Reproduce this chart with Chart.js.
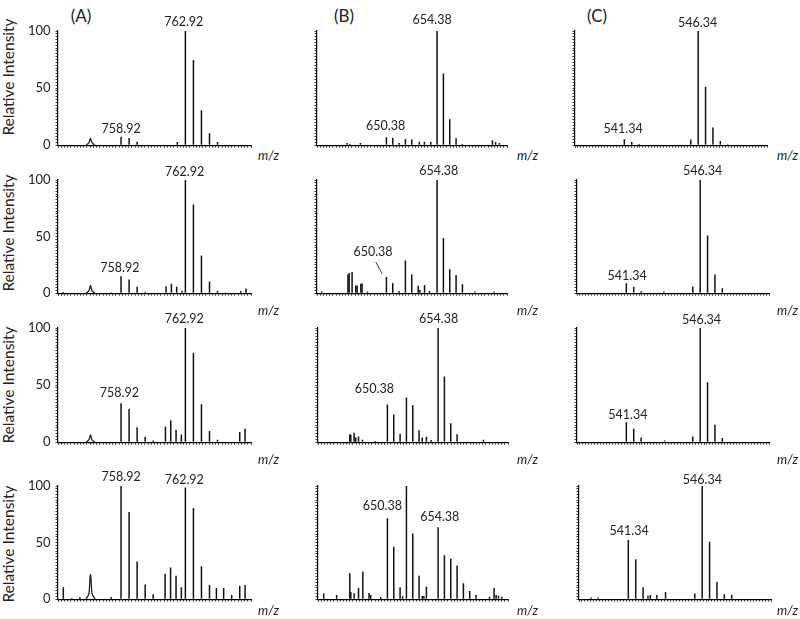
<!DOCTYPE html>
<html>
<head>
<meta charset="utf-8">
<script src="https://cdn.jsdelivr.net/npm/chart.js@4/dist/chart.umd.min.js"></script>
<style>
  html, body { margin: 0; padding: 0; background: #fff; }
  #wrap { position: relative; width: 800px; height: 619px; overflow: hidden; background: #fff; font-family: Lato, "Open Sans", sans-serif; color: #222; }
  canvas { position: absolute; }
  .txt { position: absolute; white-space: nowrap; line-height: 1; }
  .ylab { font-size: 15.5px; transform: translate(-50%, -50%) rotate(-90deg); }
  .panel { font-size: 17px; transform: translate(-50%, -50%); }
  .mz { font-size: 13px; font-style: italic; transform: translateY(-50%); }
</style>
</head>
<body>
<div id="wrap"></div>
<script>
// ---------------- DATA ----------------
const panelNames = ['(A)', '(B)', '(C)'];
const yAxisTitle = 'Relative Intensity';
const xAxisTitle = 'm/z';
const yTickLabels = [0, 50, 100];

// Column A (m/z 755–767)
const mzA1 = [758.92, 759.42, 759.92, 762.42, 762.92, 763.42, 763.92, 764.42, 764.92];
const intA1 = [7.5, 6.3, 3, 2.8, 100, 74.5, 30.5, 10.5, 2.8];
const mzA2 = [755.33, 758.3, 758.92, 759.42, 759.92, 760.42, 761.72, 762.05, 762.38, 762.71, 762.92, 763.42, 763.92, 764.42, 764.92, 765.42, 766.36, 766.69];
const intA2 = [1, 0.8, 15, 12.2, 5.6, 1.2, 6.1, 8.3, 5.6, 2.2, 100, 78.3, 33.3, 10.3, 2.2, 0.8, 1.9, 4.2];
const mzA3 = [758.92, 759.42, 759.92, 760.42, 760.92, 761.68, 762.01, 762.34, 762.67, 762.92, 763.42, 763.92, 764.42, 764.92, 766.3, 766.63];
const intA3 = [34.2, 29.3, 13.2, 4.7, 1.4, 13.7, 19.2, 11, 6.8, 100, 78.4, 33.2, 9.9, 2.2, 9, 11.8];
const mzA4 = [755.33, 755.85, 756.36, 758.31, 758.92, 759.42, 759.92, 760.42, 760.92, 761.66, 762.0, 762.34, 762.67, 762.92, 763.42, 763.92, 764.42, 764.85, 765.3, 765.8, 766.3, 766.63];
const intA4 = [10.5, 1, 2, 2, 100, 77, 33.2, 13, 4.4, 22.4, 28, 20.8, 10.5, 98.6, 80.6, 29, 12.5, 10, 10, 3.6, 11.9, 12.5];
// broad feature near m/z 757 (profile points)
const broadMzA = [756.75, 756.92, 756.99, 757.02, 757.05, 757.12, 757.3];
const broadA1 = [0, 2, 5, 6, 5, 2, 0];
const broadA2 = [0, 2, 5.5, 6.9, 5.5, 2, 0];
const broadA3 = [0, 2, 5, 6.3, 5, 2, 0];
const broadA4 = [0, 5, 19, 22, 19, 5, 0];

// Column B (m/z 644.9–659.9)
const mzB1 = [647.28, 647.5, 648.33, 650.38, 650.88, 651.38, 651.88, 652.38, 652.98, 653.38, 653.88, 654.38, 654.88, 655.38, 655.88, 656.38, 658.75, 659.0, 659.3];
const intB1 = [2, 1, 2, 6.9, 6.6, 2, 5.5, 5, 3, 3, 3, 100, 62.7, 22.7, 6.1, 1, 4.4, 2.8, 2];
const mzB2 = [645.27, 647.34, 647.44, 647.67, 647.96, 648.07, 648.36, 648.46, 648.88, 650.38, 650.88, 651.38, 651.88, 652.38, 652.89, 653.02, 653.39, 653.78, 654.38, 654.88, 655.38, 655.88, 656.38, 657.37, 658.88];
const intB2 = [1.4, 16.5, 17.9, 18.7, 6.9, 6.9, 8.3, 8.5, 1.4, 14.3, 9.1, 2, 28.9, 16.5, 6.6, 2.8, 7.2, 2, 100, 48.8, 21.2, 16, 8, 1.4, 1.4];
const mzB3 = [647.41, 647.49, 647.75, 647.88, 648.1, 648.41, 649.4, 650.38, 650.88, 651.38, 651.88, 652.38, 652.88, 653.13, 653.46, 653.83, 654.38, 654.88, 655.38, 655.88, 657.96];
const intB3 = [6.9, 6.6, 8.3, 4.1, 5, 2.2, 1, 33.1, 24.3, 7.5, 39.2, 32.3, 10.5, 4.1, 4.7, 1.9, 100, 57.5, 16.6, 6.9, 2.2];
const mzB4 = [645.35, 646.37, 647.41, 647.49, 647.75, 648.1, 648.44, 648.93, 649.06, 649.85, 650.38, 650.88, 651.38, 651.58, 651.88, 652.38, 652.88, 653.13, 653.26, 653.46, 654.38, 654.88, 655.38, 655.88, 656.38, 656.88, 657.38, 658.44, 658.8, 658.96, 659.15, 659.41];
const intB4 = [5, 3.6, 22.9, 6.3, 5.2, 9.9, 24.2, 5.5, 3.6, 2, 71.6, 46.3, 10.5, 2.5, 100, 58.1, 20.7, 2.8, 2.8, 11, 63.6, 38.8, 35.8, 29.8, 14, 7.2, 3.6, 2.2, 9.9, 3.6, 3, 2.2];

// Column C (m/z 538–551)
const mzC1 = [541.34, 541.84, 542.34, 545.84, 546.34, 546.84, 547.34, 547.84, 548.34];
const intC1 = [5.2, 2.8, 1, 5, 100, 51.2, 15.4, 3.6, 0.8];
const mzC2 = [541.34, 541.84, 542.34, 543.88, 545.84, 546.34, 546.84, 547.34, 547.84];
const intC2 = [8.8, 5.8, 1.7, 1.4, 6, 100, 51, 16.5, 4.4];
const mzC3 = [541.34, 541.84, 542.34, 543.93, 545.84, 546.34, 546.84, 547.34, 547.84];
const intC3 = [17.4, 11.8, 4.1, 1.4, 5, 100, 52.6, 15.2, 3.6];
const mzC4 = [538.81, 539.3, 541.34, 541.84, 542.34, 542.67, 542.83, 543.27, 543.86, 545.84, 546.34, 546.84, 547.34, 547.84, 548.34];
const intC4 = [1.4, 1.4, 52.4, 35.2, 10.5, 3, 3.6, 3.6, 6.4, 5, 100, 50.7, 15.2, 4.4, 3.9];

// Peak annotations (text, anchor m/z, anchor intensity)
const notesA1 = [{text:'762.92', mz:762.82, level:108}, {text:'758.92', mz:758.92, level:14}];
const notesA2 = [{text:'762.92', mz:762.87, level:107}, {text:'758.92', mz:758.85, level:22}];
const notesA3 = [{text:'762.92', mz:762.85, level:108}, {text:'758.92', mz:758.81, level:43}];
const notesA4 = [{text:'758.92', mz:758.92, level:108}, {text:'762.92', mz:762.85, level:105}];
const notesB1 = [{text:'654.38', mz:653.99, level:110}, {text:'650.38', mz:650.32, level:17}];
const notesB2 = [{text:'654.38', mz:654.51, level:108}, {text:'650.38', mz:649.32, level:36}];
const notesB3 = [{text:'654.38', mz:654.43, level:108}, {text:'650.38', mz:649.35, level:47}];
const notesB4 = [{text:'650.38', mz:649.98, level:82}, {text:'654.38', mz:654.51, level:73}];
const notesC1 = [{text:'546.34', mz:546.3, level:107}, {text:'541.34', mz:541.26, level:14.5}];
const notesC2 = [{text:'546.34', mz:546.5, level:108}, {text:'541.34', mz:541.4, level:15.3}];
const notesC3 = [{text:'546.34', mz:546.43, level:107}, {text:'541.34', mz:541.45, level:24}];
const notesC4 = [{text:'546.34', mz:546.35, level:105.5}, {text:'541.34', mz:541.39, level:60}];
const leaderB2 = [{x1:649.54, y1:27.5, x2:650.06, y2:17}];

// ---------------- LAYOUT ----------------
const FONT = 'Lato, "Open Sans", sans-serif';
const rows = [{top:31, bot:152, mzY:155, labY:77}, {top:180, bot:300, mzY:310, labY:233}, {top:328, bot:449, mzY:459, labY:385}, {top:486, bot:606, mzY:610, labY:544}];
const cols = [
  {min:755, max:767, nTicks:60, width:194, ax:[58,58,58,58], mzX:258, nameX:81, labels:true},
  {min:644.9, max:659.9, nTicks:60, width:191, ax:[317,317,318,318], mzX:517, nameX:344, labels:false},
  {min:538, max:551, nTicks:65, width:193, ax:[575,577,577,579], mzX:777, nameX:597, labels:false}
];
const series = [
  [[mzA1,intA1,notesA1,[],broadA1],[mzB1,intB1,notesB1,[],null],[mzC1,intC1,notesC1,[],null]],
  [[mzA2,intA2,notesA2,[],broadA2],[mzB2,intB2,notesB2,leaderB2,null],[mzC2,intC2,notesC2,[],null]],
  [[mzA3,intA3,notesA3,[],broadA3],[mzB3,intB3,notesB3,[],null],[mzC3,intC3,notesC3,[],null]],
  [[mzA4,intA4,notesA4,[],broadA4],[mzB4,intB4,notesB4,[],null],[mzC4,intC4,notesC4,[],null]]
];

const peakLabels = {
  id: 'peakLabels',
  afterDatasetsDraw(chart, args, opts) {
    const {ctx} = chart; const x = chart.scales.x, y = chart.scales.y;
    ctx.save();
    ctx.font = '12.5px ' + FONT; ctx.fillStyle = '#222';
    ctx.textAlign = 'center'; ctx.textBaseline = 'middle';
    (opts.items || []).forEach(it => ctx.fillText(it.text, x.getPixelForValue(it.mz), y.getPixelForValue(it.level)));
    ctx.strokeStyle = '#333'; ctx.lineWidth = 1;
    (opts.leaders || []).forEach(l => {
      ctx.beginPath();
      ctx.moveTo(x.getPixelForValue(l.x1), y.getPixelForValue(l.y1));
      ctx.lineTo(x.getPixelForValue(l.x2), y.getPixelForValue(l.y2));
      ctx.stroke();
    });
    ctx.restore();
  }
};

// evenly spaced minor tick marks (axis decoration only)
function evenTicks(min, max, n) {
  const out = [];
  for (let k = 0; k <= n; k++) out.push({value: min + (max - min) * k / n});
  return out;
}

const wrap = document.getElementById('wrap');
const PADTOP = 25, YW = 50, XH = 6, PADR = 2;

function addText(cls, text, x, y) {
  const d = document.createElement('div');
  d.className = 'txt ' + cls; d.textContent = text;
  d.style.left = x + 'px'; d.style.top = y + 'px';
  wrap.appendChild(d);
}

cols.forEach((c, ci) => addText('panel', panelNames[ci], c.nameX, 15));

rows.forEach((r, ri) => {
  addText('ylab', yAxisTitle, 9, r.labY);
  cols.forEach((c, ci) => {
    const [mz, inten, notes, leaders, broad] = series[ri][ci];
    const ax = c.ax[ri];
    const cv = document.createElement('canvas');
    const W = YW + c.width + PADR, H = PADTOP + (r.bot - r.top) + XH;
    cv.width = W; cv.height = H;
    cv.style.left = (ax - YW) + 'px'; cv.style.top = (r.top - PADTOP) + 'px';
    cv.style.width = W + 'px'; cv.style.height = H + 'px';
    wrap.appendChild(cv);
    addText('mz', xAxisTitle, c.mzX, r.mzY);

    const datasets = [{
      type: 'bar',
      data: mz.map((m, i) => ({x: m, y: inten[i]})),
      backgroundColor: '#111', borderWidth: 0, barThickness: 1.5, inflateAmount: 0, grouped: false
    }];
    if (broad) {
      datasets.push({
        type: 'line',
        data: broadMzA.map((m, i) => ({x: m, y: broad[i]})),
        borderColor: '#222', borderWidth: 1.3, pointRadius: 0, tension: 0.3, fill: false
      });
    }

    new Chart(cv.getContext('2d'), {
      type: 'bar',
      data: { datasets },
      options: {
        responsive: false, animation: false, devicePixelRatio: 1,
        layout: { padding: {top: PADTOP, right: PADR, left: 0, bottom: 0}, autoPadding: false },
        plugins: { legend: {display: false}, tooltip: {enabled: false}, peakLabels: {items: notes, leaders: leaders} },
        scales: {
          x: {
            type: 'linear', min: c.min, max: c.max, offset: false,
            afterFit: s => { s.height = XH; },
            afterBuildTicks: s => { s.ticks = evenTicks(c.min, c.max, c.nTicks); },
            ticks: { autoSkip: false, callback: () => '', maxRotation: 0 },
            grid: { display: true, drawOnChartArea: false, drawTicks: true, tickLength: 2.5, color: '#222', lineWidth: 0.9, offset: false },
            border: { display: true, color: '#000', width: 1.2 }
          },
          y: {
            min: 0, max: 100,
            afterFit: s => { s.width = YW; },
            afterBuildTicks: s => { s.ticks = evenTicks(0, 100, 40); },
            ticks: { autoSkip: false, padding: 5, color: '#222',
              font: { family: FONT, size: 13 },
              callback: v => (c.labels && yTickLabels.includes(Math.round(v * 100) / 100)) ? String(Math.round(v)) : '' },
            grid: { display: true, drawOnChartArea: false, drawTicks: true, tickLength: 2.5, color: '#222', lineWidth: 0.9 },
            border: { display: true, color: '#000', width: 1.2 }
          }
        }
      },
      plugins: [peakLabels]
    });
  });
});
</script>
</body>
</html>
